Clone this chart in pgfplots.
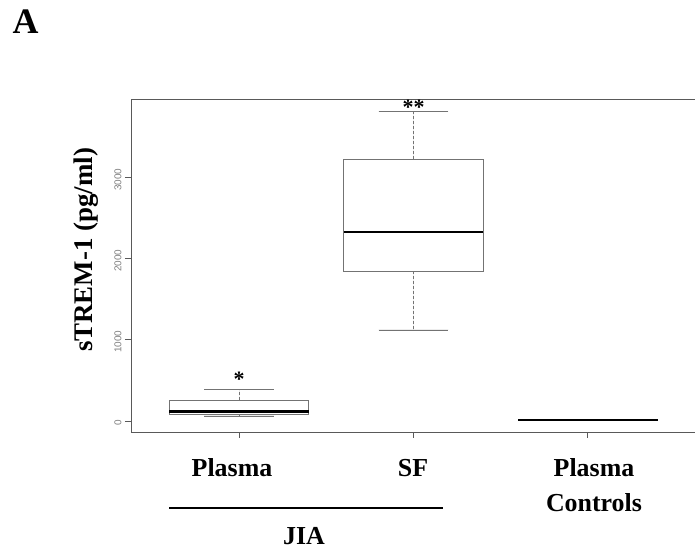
\documentclass[border=0pt]{standalone}
\usepackage{fontspec}
\setmainfont{Liberation Serif}
\newfontfamily\ticksf{Liberation Sans}
\usepackage{pgfplots}
\pgfplotsset{compat=1.18}
\usepgfplotslibrary{statistics}
\definecolor{boxgray}{gray}{0.45}
\definecolor{framegray}{gray}{0.35}
\begin{document}
\begin{tikzpicture}
\path[use as bounding box] (0,0) rectangle (695bp,549bp);
\begin{axis}[
  at={(131bp,117bp)}, anchor=south west,
  width=565bp, height=333bp, scale only axis,
  xmin=0.38, xmax=3.62, ymin=-136, ymax=3970,
  axis line style={framegray, line width=0.8bp},
  xtick={1,2,3}, xticklabels={}, xtick pos=bottom,
  ytick={0,1000,2000,3000}, ytick pos=left,
  tick align=outside, major tick length=6bp,
  tick style={framegray, line width=0.8bp},
  /pgf/number format/assume math mode=true,
  /pgf/number format/1000 sep={},
  yticklabel style={font=\ticksf\fontsize{10}{10}\selectfont, text=gray, rotate=90, anchor=south, xshift=-2bp},
  clip=false,
  boxplot/draw direction=y,
  boxplot/every median/.style={black, line width=2.8bp},
  boxplot/draw/lower whisker/.code={
    \draw[boxgray, line width=0.8bp, dash pattern=on 3bp off 2bp] (boxplot cs:\pgfplotsboxplotvalue{lower quartile}) -- (boxplot cs:\pgfplotsboxplotvalue{lower whisker});
    \draw[boxgray, line width=0.8bp] (boxplot whisker cs:\pgfplotsboxplotvalue{lower whisker},0) -- (boxplot whisker cs:\pgfplotsboxplotvalue{lower whisker},1);
  },
  boxplot/draw/upper whisker/.code={
    \draw[boxgray, line width=0.8bp, dash pattern=on 3bp off 2bp] (boxplot cs:\pgfplotsboxplotvalue{upper quartile}) -- (boxplot cs:\pgfplotsboxplotvalue{upper whisker});
    \draw[boxgray, line width=0.8bp] (boxplot whisker cs:\pgfplotsboxplotvalue{upper whisker},0) -- (boxplot whisker cs:\pgfplotsboxplotvalue{upper whisker},1);
  },
]
\addplot[draw=boxgray, line width=0.8bp, fill=white,
  boxplot prepared={draw position=1, lower whisker=62, lower quartile=86,
    median=115, upper quartile=259, upper whisker=391,
    box extend=0.8, whisker extend=0.4}] coordinates {};
\addplot[draw=boxgray, line width=0.8bp, fill=white,
  boxplot prepared={draw position=2, lower whisker=1122, lower quartile=1850,
    median=2330, upper quartile=3227, upper whisker=3814,
    box extend=0.8, whisker extend=0.4}] coordinates {};
\addplot[draw=boxgray, line width=0.8bp, fill=white,
  boxplot prepared={draw position=3, lower whisker=8, lower quartile=10,
    median=12, upper quartile=14, upper whisker=16,
    box extend=0.8, whisker extend=0.4}] coordinates {};
\node[font=\bfseries\fontsize{22}{22}\selectfont, inner sep=0pt] at (axis cs:1,518) {*};
\node[font=\bfseries\fontsize{22}{22}\selectfont, inner sep=0pt] at (axis cs:2,3870) {**};
\end{axis}
\node[anchor=base, font=\bfseries\fontsize{36}{36}\selectfont, inner sep=0pt] at (25.5bp,515bp) {A};
\node[anchor=base, rotate=90, font=\bfseries\fontsize{27}{27}\selectfont, inner sep=0pt] at (92bp,299bp) {sTREM-1 (pg/ml)};
\node[anchor=base, font=\bfseries\fontsize{26}{26}\selectfont, inner sep=0pt] at (232bp,72bp) {Plasma};
\node[anchor=base, font=\bfseries\fontsize{26}{26}\selectfont, inner sep=0pt] at (413bp,72bp) {SF};
\node[anchor=base, font=\bfseries\fontsize{26}{26}\selectfont, inner sep=0pt] at (594bp,72bp) {Plasma};
\node[anchor=base, font=\bfseries\fontsize{26}{26}\selectfont, inner sep=0pt] at (594bp,38bp) {Controls};
\draw[black, line width=1.5bp] (169bp,41bp) -- (443bp,41bp);
\node[anchor=base, font=\bfseries\fontsize{26}{26}\selectfont, inner sep=0pt] at (304bp,5bp) {JIA};
\end{tikzpicture}
\end{document}
